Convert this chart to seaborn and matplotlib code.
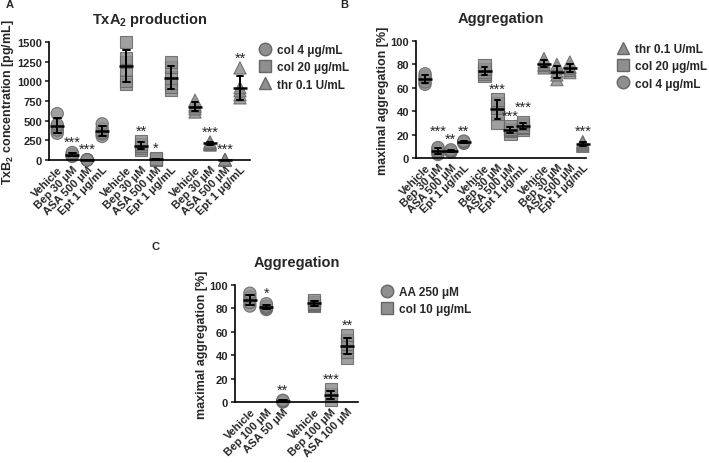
import matplotlib.pyplot as plt
from matplotlib.lines import Line2D
import pandas as pd
import seaborn as sns

# ---- panel A: TxB2 concentration [pg/mL]
a_conditions = ["Vehicle", "Bep 30 μM", "ASA 500 μM", "Ept 1 μg/mL"]
a_agonists = ["col 4 μg/mL", "col 20 μg/mL", "thr 0.1 U/mL"]
a_col4 = [[340, 380, 420, 450, 590], [45, 55, 60, 75, 95], [0, 2, 5, 3, 1], [300, 330, 350, 400, 460]]
a_col20 = [[970, 1000, 1150, 1250, 1300, 1500], [130, 150, 180, 200, 240], [5, 10, 15, 20], [890, 930, 980, 1050, 1180, 1250]]
a_thr = [[610, 650, 680, 700, 760], [190, 200, 210, 220, 230], [0, 1, 2, 3, 4], [790, 830, 880, 920, 1170]]
a_stars = [["", "***", "***", ""], ["", "**", "*", ""], ["", "***", "***", "**"]]

# ---- panel B: maximal aggregation [%]
b_conditions = ["Vehicle", "Bep 30 μM", "ASA 500 μM", "Ept 1 μg/mL"]
b_agonists = ["col 4 μg/mL", "col 20 μg/mL", "thr 0.1 U/mL"]
b_col4 = [[63, 65, 68, 70, 72], [3, 4, 6, 8, 9], [5, 6, 6, 7], [12.5, 13, 14, 14.5]]
b_col20 = [[70, 72, 74, 76, 79], [30, 38, 43, 47, 50], [21, 23, 24, 25, 27], [24, 26, 27, 29, 31]]
b_thr = [[77, 79, 80, 82, 85], [67, 71, 74, 77, 80], [73, 75, 77, 78, 82], [10, 11, 12, 13, 14]]
b_stars = [["", "***", "**", "**"], ["", "***", "***", "***"], ["", "", "", "***"]]

# ---- panel C: maximal aggregation [%]
c_conditions_aa = ["Vehicle", "Bep 100 μM", "ASA 50 μM"]
c_conditions_col = ["Vehicle", "Bep 100 μM", "ASA 100 μM"]
c_agonists = ["AA 250 μM", "col 10 μg/mL"]
c_aa = [[82, 85, 88, 90, 93], [79, 80, 81, 82, 84], [0, 0.5, 1, 1.5]]
c_col10 = [[82, 83, 84, 85, 87], [2, 5, 6, 7, 11], [38, 43, 47, 50, 53, 57]]
c_stars = [["", "*", "**"], ["", "***", "**"]]

GREY = "#8f8f8f"
EDGE = "#666666"
SHAPES = {"col 4 μg/mL": "o", "col 20 μg/mL": "s", "thr 0.1 U/mL": "^",
          "AA 250 μM": "o", "col 10 μg/mL": "s"}


def build(agonists, values, gap):
    rows = []
    for gi, (ag, conds) in enumerate(zip(agonists, values)):
        n = len(conds)
        for ci, pts in enumerate(conds):
            for v in pts:
                rows.append({"agonist": ag, "pos": gi * (n + gap) + ci, "value": v, "ci": ci, "gi": gi})
    return pd.DataFrame(rows)


def draw(ax, df, agonists, labels, stars, ymax, yticks, ylabel, title, xlim):
    sns.scatterplot(data=df, x="pos", y="value", style="agonist", markers=SHAPES,
                    style_order=agonists, color=GREY, edgecolor=EDGE, linewidth=0.8,
                    s=78, alpha=0.85, legend=False, clip_on=False, zorder=2, ax=ax)
    sns.pointplot(data=df, x="pos", y="value", native_scale=True, errorbar="sd",
                  color="black", marker="_", linestyle="none", capsize=0.45,
                  err_kws={"linewidth": 1.4}, markersize=10, markeredgewidth=1.8, ax=ax)
    plt.setp(ax.lines, zorder=5, clip_on=False)
    plt.setp(ax.collections, clip_on=False)

    ticks = sorted(df["pos"].unique())
    ax.set_xticks(ticks)
    ax.set_xticklabels(labels, rotation=45, ha="right", rotation_mode="anchor",
                       fontsize=8, fontweight="bold")
    ax.tick_params(axis="x", length=0, pad=3)
    ax.tick_params(axis="y", length=3, width=1.2, labelsize=8, pad=2)
    for t in ax.get_yticklabels():
        t.set_fontweight("bold")

    # significance stars above each column; stagger neighbours that would collide
    marks = []
    for (gi, ci), grp in df.groupby(["gi", "ci"]):
        s = stars[gi][ci]
        if s:
            marks.append([gi, ci, grp["pos"].iloc[0], grp["value"].max() + 0.09 * ymax, s])
    for prev, cur in zip(marks, marks[1:]):
        if prev[0] == cur[0] and cur[1] - prev[1] == 1 and abs(cur[3] - prev[3]) < 0.06 * ymax:
            if len(prev[4]) > len(cur[4]):
                prev[3] = cur[3] + 0.07 * ymax
            else:
                cur[3] = prev[3] + 0.08 * ymax
    for gi, ci, x, y, s in marks:
        ax.text(x, y, s, ha="center", va="center", fontsize=10.5)

    ax.set_ylim(0, ymax)
    ax.set_yticks(yticks)
    ax.set_xlim(*xlim)
    ax.set_xlabel("")
    ax.set_ylabel(ylabel, fontsize=9, fontweight="bold", labelpad=1)
    ax.set_title(title, fontsize=10.5, fontweight="bold", pad=14)
    for sp in ["top", "right"]:
        ax.spines[sp].set_visible(False)
    for sp in ["left", "bottom"]:
        ax.spines[sp].set_linewidth(1.2)
        ax.spines[sp].set_color("black")


def add_legend(fig, agonists, x, y):
    handles = [Line2D([], [], marker=SHAPES[a], linestyle="none", markerfacecolor=GREY,
                      markeredgecolor=EDGE, markersize=9) for a in agonists]
    fig.legend(handles, agonists, loc="upper left", bbox_to_anchor=(x / 709, 1 - y / 464),
               frameon=False, prop={"size": 8.5, "weight": "bold"}, handletextpad=0.4,
               labelspacing=0.45, borderaxespad=0, borderpad=0, handlelength=1.2)


sns.set_style("ticks")
plt.rcParams["font.family"] = ["Liberation Sans", "DejaVu Sans"]
plt.rcParams["mathtext.fontset"] = "custom"
plt.rcParams["mathtext.rm"] = "Liberation Sans:bold"
plt.rcParams["mathtext.bf"] = "Liberation Sans:bold"

fig = plt.figure(figsize=(7.09, 4.64), dpi=100)
axA = fig.add_axes([49 / 709, 1 - 161 / 464, 201 / 709, 118 / 464])
axB = fig.add_axes([416 / 709, 1 - 159 / 464, 170 / 709, 117 / 464])
axC = fig.add_axes([235 / 709, 1 - 403 / 464, 123 / 709, 117 / 464])

dfA = build(a_agonists, [a_col4, a_col20, a_thr], 0.6)
draw(axA, dfA, a_agonists, a_conditions * 3, a_stars, 1500, range(0, 1501, 250),
     "TxB$_{2}$ concentration [pg/mL]", "TxA$_{2}$ production", (-0.55, 12.87))
add_legend(fig, a_agonists, 258, 45)

dfB = build(b_agonists, [b_col4, b_col20, b_thr], 0.6)
draw(axB, dfB, b_agonists, b_conditions * 3, b_stars, 100, range(0, 101, 20),
     "maximal aggregation [%]", "Aggregation", (-0.7, 12.45))
add_legend(fig, b_agonists[::-1], 616, 44)

dfC = build(c_agonists, [c_aa, c_col10], 0.9)
draw(axC, dfC, c_agonists, c_conditions_aa + c_conditions_col, c_stars, 100, range(0, 101, 20),
     "maximal aggregation [%]", "Aggregation", (-0.9, 6.55))
add_legend(fig, c_agonists, 380, 287)

for letter, x, y in [("A", 6, 0), ("B", 340, 0), ("C", 152, 242)]:
    fig.text(x / 709, 1 - y / 464, letter, fontsize=8, fontweight="bold", va="top")

fig.savefig("out.png", dpi=100)
